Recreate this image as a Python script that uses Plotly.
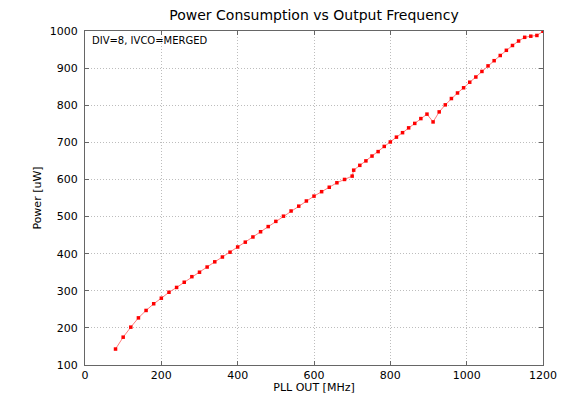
import plotly.graph_objects as go

# Segment 1: 80..700 MHz step 20 ; Segment 2: 704..1200 MHz step 16
freq_seg1 = [80, 100, 120, 140, 160, 180, 200, 220, 240, 260, 280, 300, 320, 340, 360, 380,
             400, 420, 440, 460, 480, 500, 520, 540, 560, 580, 600, 620, 640, 660, 680, 700]
power_seg1 = [143, 175, 202, 227, 247, 265, 280, 296, 309, 323, 338, 350, 364, 378, 391, 404,
              418, 431, 445, 459, 473, 487, 501, 515, 528, 542, 555, 567, 579, 591, 600, 609]
freq_seg2 = [704, 720, 736, 752, 768, 784, 800, 816, 832, 848, 864, 880, 896, 912, 928, 944,
             960, 976, 992, 1008, 1024, 1040, 1056, 1072, 1088, 1104, 1120, 1136, 1152, 1168, 1184, 1200]
power_seg2 = [625, 638, 650, 663, 675, 689, 701, 714, 726, 739, 751, 764, 776, 755, 782, 801,
              818, 833, 847, 862, 876, 891, 906, 920, 934, 948, 961, 973, 983, 986, 988, 999]

x_ticks = [0, 200, 400, 600, 800, 1000, 1200]
y_ticks = [100, 200, 300, 400, 500, 600, 700, 800, 900, 1000]

freq = freq_seg1 + freq_seg2
power = power_seg1 + power_seg2

fig = go.Figure()
fig.add_trace(go.Scatter(
    x=freq, y=power, mode="lines+markers",
    line=dict(color="rgba(255,110,110,0.9)", width=1),
    marker=dict(symbol="square", size=3.5, color="#ff0000", line=dict(width=0)),
    showlegend=False,
))

axis_common = dict(
    showline=True, linecolor="#666666", linewidth=1, mirror="ticks",
    ticks="inside", ticklen=4, tickcolor="#666666", automargin=False,
    showgrid=True, gridcolor="#bdbdbd", griddash="1px,2px", gridwidth=1,
    zeroline=False, tickfont=dict(family="DejaVu Sans", size=11, color="#000000"),
)

fig.update_xaxes(range=[0, 1200], tickvals=x_ticks, ticktext=[str(v) for v in x_ticks],
                 title=dict(text="PLL OUT [MHz]", font=dict(family="DejaVu Sans", size=11, color="#000"), standoff=1),
                 **axis_common)
fig.update_yaxes(range=[100, 1000], tickvals=y_ticks, ticktext=[str(v) for v in y_ticks],
                 title=dict(text="Power [uW]", font=dict(family="DejaVu Sans", size=11, color="#000"), standoff=5),
                 ticklabelstandoff=4, **axis_common)

# page body has an 8px margin, so the figure is 8px smaller and margins shifted
fig.update_layout(
    width=560, height=386,
    margin=dict(l=77, r=25, t=23, b=29, autoexpand=False),
    paper_bgcolor="white", plot_bgcolor="white",
    title=dict(text="Power Consumption vs Output Frequency", x=0.5464, xanchor="center",
               y=0.994, yanchor="top",
               font=dict(family="DejaVu Sans", size=14, color="#000")),
    annotations=[dict(text="DIV=8, IVCO=MERGED", xref="paper", yref="paper", x=0.01, y=0.993,
                      xanchor="left", yanchor="top", showarrow=False,
                      font=dict(family="DejaVu Sans", size=10, color="#000"))],
)

fig.write_html("out.html")
